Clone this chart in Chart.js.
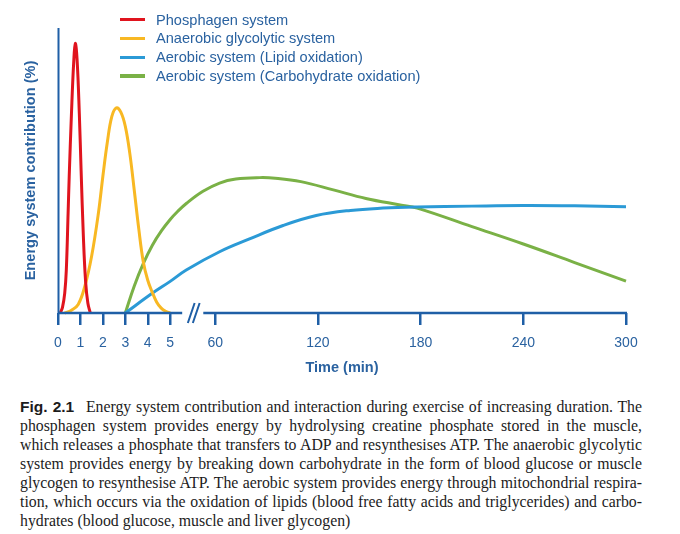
<!DOCTYPE html>
<html>
<head>
<meta charset="utf-8">
<script src="https://cdn.jsdelivr.net/npm/chart.js@4"></script>
<style>
  body { margin: 0; background: #fff; width: 680px; height: 534px; position: relative; overflow: hidden; }
  #wrap { position: absolute; left: 0; top: 0; width: 680px; height: 385px; }
  #legend { position: absolute; left: 120px; top: 10.5px; font: 14.6px "Liberation Sans", Arial, sans-serif; color: #2a62a0; }
  #legend .row { height: 18.8px; line-height: 18.8px; white-space: nowrap; }
  #legend .sw { display: inline-block; width: 25px; height: 3.4px; vertical-align: middle; margin-right: 11px; position: relative; top: -1px; }
  #caption { position: absolute; left: 20px; top: 397px; width: 622px; font: 15.8px "Liberation Serif", "Times New Roman", serif; line-height: 19px; color: #1c1c1c; }
  #caption .ln { text-align: justify; text-align-last: justify; white-space: nowrap; }
  #caption .ln.last { text-align-last: left; }
  #caption b { font: bold 15.5px "Liberation Sans", Arial, sans-serif; margin-right: 7px; }
</style>
</head>
<body>
<div id="wrap"><canvas id="energyChart" width="680" height="385"></canvas><div id="legend"></div></div>
<div id="caption">
  <div class="ln"><b>Fig. 2.1</b> Energy system contribution and interaction during exercise of increasing duration. The</div>
  <div class="ln">phosphagen system provides energy by hydrolysing creatine phosphate stored in the muscle,</div>
  <div class="ln">which releases a phosphate that transfers to ADP and resynthesises ATP. The anaerobic glycolytic</div>
  <div class="ln">system provides energy by breaking down carbohydrate in the form of blood glucose or muscle</div>
  <div class="ln">glycogen to resynthesise ATP. The aerobic system provides energy through mitochondrial respira-</div>
  <div class="ln">tion, which occurs via the oxidation of lipids (blood free fatty acids and triglycerides) and carbo-</div>
  <div class="ln last">hydrates (blood glucose, muscle and liver glycogen)</div>
</div>
<script>
// Data (time in minutes, contribution as % of axis height)
const tickMinutes = [0, 1, 2, 3, 4, 5, 60, 120, 180, 240, 300];
const tickLabels = ['0', '1', '2', '3', '4', '5', '60', '120', '180', '240', '300'];

const seriesNames = [
  'Phosphagen system',
  'Anaerobic glycolytic system',
  'Aerobic system (Lipid oxidation)',
  'Aerobic system (Carbohydrate oxidation)'
];
const seriesColors = ['#e0141e', '#f8b823', '#2b9ad6', '#7ab146'];

const phosphagenTime = [0.1, 0.2, 0.3, 0.37, 0.45, 0.5, 0.6, 0.7, 0.77, 0.85, 0.95, 1.03, 1.13, 1.23, 1.33, 1.44];
const phosphagenValues = [0, 2, 7, 15, 35, 48, 70, 88, 94.6, 89, 70, 50, 27, 11, 3.5, 0];

const glycolyticTime = [0.3, 0.6, 0.9, 1.2, 1.5, 1.8, 2.0, 2.2, 2.4, 2.6, 2.8, 3.0, 3.2, 3.4, 3.6, 3.8, 4.0, 4.2, 4.4, 4.6, 4.8, 5.0];
const glycolyticValues = [0, 1, 3, 9.5, 20, 35, 48, 60, 69, 72, 70.5, 65.5, 56, 43, 29.5, 18, 11.5, 7.3, 3.8, 1.7, 0.6, 0];

const lipidTime = [3, 4.2, 5, 24.6, 62.5, 80, 99.6, 119, 139, 158, 178, 210, 240, 270, 300];
const lipidValues = [0, 6.9, 11.1, 15.1, 21.5, 26.0, 30.7, 34.2, 36.0, 36.8, 37.2, 37.5, 37.7, 37.6, 37.3];

const carbTime = [3, 3.4, 3.8, 4.2, 4.6, 5, 14, 25, 45, 62.5, 72, 86, 95, 110, 129, 148, 168, 178, 210, 240, 270, 300];
const carbValues = [0, 9.5, 17.3, 23.7, 28.7, 32.8, 35.6, 38.5, 42.7, 45.6, 47.0, 47.5, 47.3, 46.1, 43.2, 40.2, 37.9, 36.8, 30.3, 24.2, 17.7, 11.2];

// broken time axis: 0-5 min wide, gap 5-60, then 60-300 compressed
const GAP_UNITS = 2.01;
const UNITS_PER_HOUR = 4.576;
function toAxis(t) {
  if (t <= 5) return t;
  if (t <= 60) return 5 + (t - 5) / 55 * GAP_UNITS;
  return 5 + GAP_UNITS + (t - 60) / 60 * UNITS_PER_HOUR;
}

const AXIS_BLUE = '#1f5fa6';
const TEXT_BLUE = '#2a62a0';
const FONT = '"Liberation Sans", Arial, sans-serif';

function pts(times, vals) {
  return times.map((t, i) => ({ x: toAxis(t), y: vals[i] }));
}

const seriesData = [
  pts(phosphagenTime, phosphagenValues),
  pts(glycolyticTime, glycolyticValues),
  pts(lipidTime, lipidValues),
  pts(carbTime, carbValues)
];

// legend
const legend = document.getElementById('legend');
seriesNames.forEach((name, i) => {
  const row = document.createElement('div');
  row.className = 'row';
  row.innerHTML = '<span class="sw" style="background:' + seriesColors[i] + '"></span>' + name;
  legend.appendChild(row);
});

// both axis lines, x one with a break mark
const brokenAxis = {
  id: 'brokenAxis',
  afterDatasetsDraw(chart) {
    const { ctx, chartArea, scales: { x, y } } = chart;
    const yb = y.getPixelForValue(0);
    const p5 = x.getPixelForValue(toAxis(5));
    const p60 = x.getPixelForValue(toAxis(60));
    const mid = (p5 + p60) / 2 + 1;
    ctx.save();
    ctx.strokeStyle = AXIS_BLUE;
    ctx.lineWidth = 2;
    ctx.beginPath();
    ctx.moveTo(chartArea.left + 0.5, chartArea.top);
    ctx.lineTo(chartArea.left + 0.5, yb);
    ctx.stroke();
    ctx.lineWidth = 2.5;
    ctx.beginPath();
    ctx.moveTo(x.left, yb);
    ctx.lineTo(p5 + 12, yb);
    ctx.moveTo(p60 - 12, yb);
    ctx.lineTo(x.right + 1, yb);
    ctx.stroke();
    ctx.lineWidth = 2;
    ctx.beginPath();
    [-2.5, 2.5].forEach(off => {
      ctx.moveTo(mid + off - 3.4, yb + 10);
      ctx.lineTo(mid + off + 3.4, yb - 10);
    });
    ctx.stroke();
    ctx.restore();
  }
};

const ctx = document.getElementById('energyChart').getContext('2d');
new Chart(ctx, {
  type: 'line',
  data: {
    datasets: seriesNames.map((name, i) => ({
      label: name,
      data: seriesData[i],
      borderColor: seriesColors[i],
      borderWidth: 3,
      pointRadius: 0,
      fill: false,
      tension: 0.4,
      clip: false
    }))
  },
  options: {
    responsive: false,
    animation: false,
    devicePixelRatio: 1,
    layout: { padding: { top: 28, right: 54, left: 0, bottom: 0 } },
    plugins: {
      legend: { display: false },
      tooltip: { enabled: false }
    },
    scales: {
      x: {
        type: 'linear',
        min: 0,
        max: toAxis(300),
        border: { display: false },
        grid: {
          drawOnChartArea: false,
          drawTicks: true,
          tickLength: 12,
          color: AXIS_BLUE,
          lineWidth: 2.5
        },
        afterBuildTicks: (scale) => {
          scale.ticks = tickMinutes.map(t => ({ value: toAxis(t) }));
        },
        ticks: {
          autoSkip: false,
          maxRotation: 0,
          padding: 10,
          color: TEXT_BLUE,
          font: { family: FONT, size: 14 },
          callback: (value, index) => tickLabels[index]
        },
        title: {
          display: true,
          text: 'Time (min)',
          color: TEXT_BLUE,
          font: { family: FONT, size: 14.5, weight: 'bold' },
          padding: { top: 0, bottom: 8.3 }
        },
        afterFit: (scale) => { scale.height = 72; }
      },
      y: {
        min: 0,
        max: 100,
        border: { display: false },
        grid: { display: false },
        ticks: { display: false },
        title: {
          display: true,
          text: 'Energy system contribution (%)',
          color: TEXT_BLUE,
          font: { family: FONT, size: 14.6, weight: 'bold' },
          padding: { top: 22.5, bottom: 0 }
        },
        afterFit: (scale) => { scale.width = 58; }
      }
    }
  },
  plugins: [brokenAxis]
});
</script>
</body>
</html>
